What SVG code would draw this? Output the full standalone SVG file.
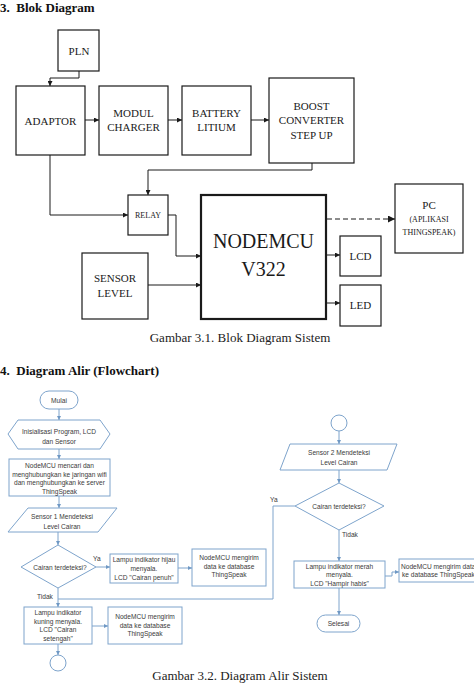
<svg xmlns="http://www.w3.org/2000/svg" width="474" height="684" viewBox="0 0 474 684">
<style>
.bg{fill:#fff}
.blk{fill:#fff;stroke:#1a1a1a;stroke-width:1.2}
.thick{fill:#fff;stroke:#1a1a1a;stroke-width:2.2}
.bt{font-family:"Liberation Serif","Times New Roman",serif;fill:#1a1a1a;text-anchor:middle}
.hd{font-family:"Liberation Serif","Times New Roman",serif;font-weight:bold;fill:#111;font-size:13px}
.cap{font-family:"Liberation Serif","Times New Roman",serif;fill:#222;font-size:13px;text-anchor:middle}
.bl{fill:none;stroke:#1a1a1a;stroke-width:1}
.fs{fill:#fff;stroke:#7ea4cc;stroke-width:1}
.fl{fill:none;stroke:#7ea4cc;stroke-width:1}
.ft{font-family:"Liberation Sans",Arial,sans-serif;font-size:6.6px;fill:#3a3a3a;text-anchor:middle}
.fa{font-family:"Liberation Sans",Arial,sans-serif;font-size:6.6px;fill:#3a3a3a}
</style>
<defs>
<marker id="ab" markerWidth="5" markerHeight="5" refX="5" refY="2.5" orient="auto" markerUnits="userSpaceOnUse"><path d="M0,0 L5,2.5 L0,5 z" fill="#1a1a1a"/></marker>
<marker id="abd" markerWidth="7" markerHeight="7" refX="7" refY="3.5" orient="auto" markerUnits="userSpaceOnUse"><path d="M0,0 L7,3.5 L0,7 z" fill="#1a1a1a"/></marker>
<marker id="af" markerWidth="4" markerHeight="4" refX="4" refY="2" orient="auto" markerUnits="userSpaceOnUse"><path d="M0,0 L4,2 L0,4 z" fill="#6f98c4"/></marker>
</defs>
<rect class="bg" x="0" y="0" width="474" height="684"/>

<text class="hd" x="0" y="12" xml:space="preserve">3.  Blok Diagram</text>

<g id="pln"><rect class="blk" x="58" y="30" width="41" height="41"/><text class="bt" x="79" y="55" font-size="11">PLN</text></g>
<g id="adaptor"><rect class="blk" x="16" y="86" width="69" height="69"/><text class="bt" x="50.5" y="125" font-size="11">ADAPTOR</text></g>
<g id="modul"><rect class="blk" x="99" y="86" width="69" height="69"/><text class="bt" x="133.5" y="117" font-size="11">MODUL</text><text class="bt" x="133.5" y="131" font-size="11">CHARGER</text></g>
<g id="battery"><rect class="blk" x="182" y="86" width="69" height="69"/><text class="bt" x="216.5" y="117" font-size="11">BATTERY</text><text class="bt" x="216.5" y="131" font-size="11">LITIUM</text></g>
<g id="boost"><rect class="blk" x="269" y="78" width="85" height="85"/><text class="bt" x="311.5" y="110" font-size="11">BOOST</text><text class="bt" x="311.5" y="124" font-size="11">CONVERTER</text><text class="bt" x="311.5" y="139" font-size="11">STEP UP</text></g>
<g id="relay"><rect class="blk" x="128" y="195" width="40" height="40"/><text class="bt" x="148" y="218" font-size="8">RELAY</text></g>
<g id="nodemcu"><rect class="thick" x="201" y="195" width="125" height="124"/><text class="bt" x="263.5" y="248" font-size="20">NODEMCU</text><text class="bt" x="263.5" y="276" font-size="20">V322</text></g>
<g id="sensor"><rect class="blk" x="82" y="253" width="66" height="66"/><text class="bt" x="115" y="282" font-size="11">SENSOR</text><text class="bt" x="115" y="297" font-size="11">LEVEL</text></g>
<g id="lcd"><rect class="blk" x="340" y="236" width="41" height="40"/><text class="bt" x="360.5" y="260" font-size="11">LCD</text></g>
<g id="led"><rect class="blk" x="340" y="285" width="41" height="41"/><text class="bt" x="360.5" y="309" font-size="11">LED</text></g>
<g id="pc"><rect class="blk" x="395" y="184" width="68" height="69"/><text class="bt" x="429" y="209" font-size="11">PC</text><text class="bt" x="429" y="222" font-size="8">(APLIKASI</text><text class="bt" x="429" y="235" font-size="8">THINGSPEAK)</text></g>

<g id="block-connectors">
<path class="bl" d="M79,71 V78 H50 V86" marker-end="url(#ab)"/>
<path class="bl" d="M85,120 H99" marker-end="url(#ab)"/>
<path class="bl" d="M168,120 H182" marker-end="url(#ab)"/>
<path class="bl" d="M251,120 H269" marker-end="url(#ab)"/>
<path class="bl" d="M312,163 V170 H148 V195" marker-end="url(#ab)"/>
<path class="bl" d="M50,155 V215 H128" marker-end="url(#ab)"/>
<path class="bl" d="M168,215 H176 V256 H201" marker-end="url(#ab)"/>
<path class="bl" d="M148,285 H201" marker-end="url(#ab)"/>
<path class="bl" d="M326,255 H340" marker-end="url(#ab)"/>
<path class="bl" d="M326,303 H340" marker-end="url(#ab)"/>
<path class="bl" d="M327,219 H395" stroke-width="1.8" stroke-dasharray="5,3" marker-end="url(#abd)"/>
</g>

<text class="cap" x="240" y="342">Gambar 3.1. Blok Diagram Sistem</text>
<text class="hd" x="0" y="375" xml:space="preserve">4.  Diagram Alir (Flowchart)</text>

<g id="mulai"><rect class="fs" x="40" y="391" width="38" height="18" rx="9"/><text class="ft" x="59" y="402.5">Mulai</text></g>
<g id="init"><polygon class="fs" points="8,434 18,420 100,420 110,434 100,449 18,449"/><text class="ft" x="59" y="434">Inisialisasi Program, LCD</text><text class="ft" x="59" y="444">dan Sensor</text></g>
<g id="connect"><rect class="fs" x="9" y="459" width="101" height="37"/><text class="ft" x="59.5" y="468">NodeMCU mencari dan</text><text class="ft" x="59.5" y="476.5">menghubungkan ke jaringan wifi</text><text class="ft" x="59.5" y="485">dan menghubungkan ke server</text><text class="ft" x="59.5" y="493.5">ThingSpeak</text></g>
<g id="sensor1"><polygon class="fs" points="28,508 117,508 98,532 8,532"/><text class="ft" x="62" y="519">Sensor 1 Mendeteksi</text><text class="ft" x="62" y="528.5">Level Cairan</text></g>
<g id="dec1"><polygon class="fs" points="58,545 96,567 58,588 21,567"/><text class="ft" x="60" y="569.5">Cairan terdeteksi?</text></g>
<g id="hijau"><rect class="fs" x="110" y="554" width="68" height="29"/><text class="ft" x="144" y="562">Lampu indikator hijau</text><text class="ft" x="144" y="571">menyala.</text><text class="ft" x="144" y="580">LCD "Cairan penuh"</text></g>
<g id="kirim1"><rect class="fs" x="192" y="549" width="74" height="37"/><text class="ft" x="229" y="560">NodeMCU mengirim</text><text class="ft" x="229" y="568.5">data ke database</text><text class="ft" x="229" y="577">ThingSpeak</text></g>
<g id="kuning"><rect class="fs" x="24" y="607" width="68" height="37"/><text class="ft" x="58" y="615">Lampu indikator</text><text class="ft" x="58" y="623.5">kuning menyala.</text><text class="ft" x="58" y="632">LCD "Cairan</text><text class="ft" x="58" y="640.5">setengah"</text></g>
<g id="kirim2"><rect class="fs" x="108" y="607" width="74" height="37"/><text class="ft" x="145" y="619">NodeMCU mengirim</text><text class="ft" x="145" y="627.5">data ke database</text><text class="ft" x="145" y="636">ThingSpeak</text></g>
<g id="conn1"><circle class="fs" cx="58" cy="663" r="8"/></g>
<g id="conn2"><circle class="fs" cx="339" cy="423" r="8"/></g>
<g id="sensor2"><polygon class="fs" points="290,444 397,444 387,470 280,470"/><text class="ft" x="339" y="455">Sensor 2 Mendeteksi</text><text class="ft" x="339" y="464.5">Level Cairan</text></g>
<g id="dec2"><polygon class="fs" points="339,483 384,506 339,530 295,506"/><text class="ft" x="339" y="508.5">Cairan terdeteksi?</text></g>
<g id="merah"><rect class="fs" x="294" y="561" width="91" height="27"/><text class="ft" x="339.5" y="568.5">Lampu indikator merah</text><text class="ft" x="339.5" y="577">menyala.</text><text class="ft" x="339.5" y="585.5">LCD "Hampir habis"</text></g>
<g id="kirim3"><rect class="fs" x="399" y="559" width="85" height="23"/><text class="fa" x="401" y="568.5" font-size="5.6px">NodeMCU mengirim data</text><text class="fa" x="402" y="577" font-size="5.6px">ke database ThingSpeak</text></g>
<g id="selesai"><rect class="fs" x="317" y="615" width="43" height="17" rx="8.5"/><text class="ft" x="338.5" y="626">Selesai</text></g>

<g id="flow-connectors">
<path class="fl" d="M59,409 V420" marker-end="url(#af)"/>
<path class="fl" d="M59,449 V459" marker-end="url(#af)"/>
<path class="fl" d="M59,496 V508" marker-end="url(#af)"/>
<path class="fl" d="M58,532 V545" marker-end="url(#af)"/>
<path class="fl" d="M96,567 H110" marker-end="url(#af)"/>
<path class="fl" d="M178,568 H192" marker-end="url(#af)"/>
<path class="fl" d="M58,588 V607" marker-end="url(#af)"/>
<path class="fl" d="M295,506 H273 V599 H58"/>
<path class="fl" d="M92,626 H108" marker-end="url(#af)"/>
<path class="fl" d="M58,644 V655" marker-end="url(#af)"/>
<path class="fl" d="M339,431 V444" marker-end="url(#af)"/>
<path class="fl" d="M339,470 V483" marker-end="url(#af)"/>
<path class="fl" d="M339,530 V561" marker-end="url(#af)"/>
<path class="fl" d="M385,576 H392 V572 H399" marker-end="url(#af)"/>
<path class="fl" d="M339,588 V615" marker-end="url(#af)"/>
</g>
<text class="fa" x="93" y="561">Ya</text>
<text class="fa" x="37" y="599">Tidak</text>
<text class="fa" x="270" y="502">Ya</text>
<text class="fa" x="342" y="537">Tidak</text>

<text class="cap" x="240" y="680">Gambar 3.2. Diagram Alir Sistem</text>
</svg>
